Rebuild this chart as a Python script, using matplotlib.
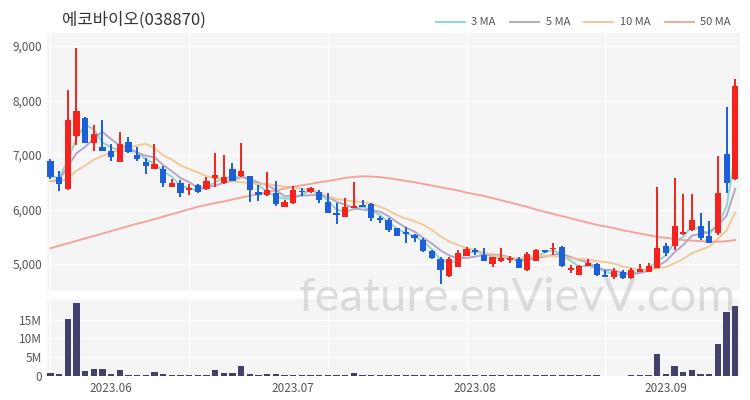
import numpy as np
import pandas as pd
import matplotlib
matplotlib.use('Agg')
import matplotlib.pyplot as plt
from matplotlib.ticker import FuncFormatter

plt.rcParams['font.family'] = ['Noto Sans CJK KR', 'DejaVu Sans']

title = '에코바이오(038870)'
holidays = ['2023-05-29', '2023-06-06', '2023-08-15']
dates = pd.bdate_range('2023-05-22', '2023-09-13', freq='C', holidays=holidays)

opens = [6900, 6600, 6370, 7350, 7680, 7230, 7150, 7070, 6880, 7240,
         7000, 6880, 6745, 6740, 6420, 6490, 6360, 6450, 6370, 6575,
         6495, 6740, 6615, 6615, 6330, 6266, 6310, 6040, 6115, 6340,
         6315, 6330, 6145, 5930, 5870, 6020, 6083, 6110, 5840, 5810,
         5655, 5595, 5530, 5450, 5240, 5085, 4780, 4945, 5150, 5250,
         5165, 5005, 5055, 5075, 5085, 4885, 5055, 5250, 5270, 5310,
         4885, 4800, 4965, 4995, 4800, 4765, 4860, 4740, 4860, 4860,
         4935, 5330, 5330, 5545, 5625, 5700, 5515, 5565, 7020, 6560]
highs = [6920, 6700, 8190, 8970, 7700, 7560, 7650, 7200, 7430, 7340,
         7150, 6940, 7210, 6790, 6555, 6540, 6470, 6470, 6600, 7030,
         7000, 6850, 7225, 6620, 6450, 6695, 6530, 6180, 6430, 6400,
         6420, 6360, 6300, 6115, 6205, 6510, 6175, 6120, 5880, 5850,
         5660, 5685, 5560, 5470, 5260, 5130, 5120, 5260, 5310, 5300,
         5300, 5130, 5290, 5140, 5130, 5225, 5270, 5260, 5390, 5330,
         4980, 4990, 5090, 5020, 4885, 4920, 4890, 4925, 5000, 5010,
         6410, 5390, 6570, 6285, 6285, 5945, 5790, 6980, 7880, 8400]
lows = [6560, 6340, 6350, 7180, 7230, 7080, 7070, 6900, 6870, 7040,
        6890, 6660, 6740, 6410, 6420, 6225, 6265, 6300, 6360, 6420,
        6470, 6520, 6600, 6145, 6160, 6250, 6065, 6040, 6110, 6250,
        6300, 6125, 5930, 5735, 5860, 6020, 6050, 5795, 5750, 5580,
        5510, 5380, 5400, 5220, 5090, 4640, 4770, 4940, 5140, 5170,
        5050, 4945, 5040, 5020, 4920, 4880, 5050, 5200, 5165, 4950,
        4840, 4790, 4960, 4780, 4760, 4720, 4730, 4730, 4850, 4850,
        4920, 5150, 5250, 5530, 5610, 5450, 5390, 5540, 6300, 6540]
closes = [6600, 6470, 7650, 7800, 7230, 7380, 7080, 6960, 7210, 7050,
          6920, 6790, 6835, 6480, 6493, 6300, 6400, 6330, 6530, 6625,
          6600, 6530, 6715, 6360, 6265, 6358, 6100, 6144, 6360, 6320,
          6390, 6175, 5930, 5900, 6050, 6064, 6052, 5840, 5810, 5625,
          5515, 5550, 5470, 5240, 5105, 4885, 5085, 5205, 5280, 5220,
          5055, 5128, 5115, 5105, 4920, 5175, 5250, 5220, 5300, 4965,
          4920, 4960, 5025, 4800, 4765, 4870, 4750, 4890, 4900, 4965,
          5300, 5205, 5700, 5590, 5805, 5470, 5390, 6300, 6480, 8260]
# closes before the visible window, used only for the short moving averages
prev_closes = [6650, 7000, 6400, 6300, 6300, 6350, 6400, 6600, 6650]
ma50 = [5290, 5335, 5380, 5425, 5470, 5515, 5560, 5605, 5650, 5695,
        5740, 5780, 5825, 5870, 5915, 5960, 6005, 6050, 6085, 6120,
        6150, 6185, 6220, 6250, 6285, 6320, 6350, 6385, 6420, 6445,
        6470, 6500, 6525, 6550, 6580, 6600, 6610, 6605, 6595, 6575,
        6550, 6525, 6500, 6470, 6440, 6410, 6380, 6350, 6310, 6280,
        6250, 6210, 6170, 6130, 6090, 6050, 6000, 5960, 5920, 5880,
        5840, 5800, 5760, 5720, 5690, 5660, 5620, 5590, 5560, 5530,
        5500, 5480, 5460, 5440, 5430, 5420, 5410, 5410, 5420, 5440]
volume_m = [0.9, 0.45, 15.1, 19.4, 1.35, 1.8, 1.8, 0.4, 1.5, 0.3,
            0.3, 0.3, 1.0, 0.5, 0.3, 0.25, 0.25, 0.25, 0.3, 1.5,
            0.9, 0.7, 2.6, 0.45, 0.3, 0.55, 0.5, 0.2, 0.25, 0.15,
            0.15, 0.2, 0.2, 0.2, 0.25, 0.7, 0.2, 0.25, 0.2, 0.2,
            0.2, 0.25, 0.2, 0.25, 0.3, 0.35, 0.3, 0.25, 0.15, 0.15,
            0.15, 0.15, 0.2, 0.2, 0.25, 0.25, 0.2, 0.15, 0.2, 0.2,
            0.15, 0.15, 0.15, 0.15, 0.1, 0.1, 0.1, 0.15, 0.15, 0.2,
            5.9, 0.45, 2.6, 1.1, 1.5, 0.4, 0.4, 8.6, 17.0, 18.7]

x = np.arange(len(dates))
o = np.array(opens)
h = np.array(highs)
l = np.array(lows)
c = np.array(closes)

all_close = pd.Series(prev_closes + closes, dtype=float)
n0 = len(prev_closes)
ma3 = all_close.rolling(3).mean().values[n0:]
ma5 = all_close.rolling(5).mean().values[n0:]
ma10 = all_close.rolling(10).mean().values[n0:]

red, blue = '#f5221d', '#1c5fd6'
cols = np.where(c >= o, red, blue)

fig = plt.figure(figsize=(7.5, 4), dpi=100)
ax = fig.add_axes([47/750, 1-291/400, 693/750, 258/400])
axv = fig.add_axes([47/750, 1-377/400, 693/750, 78/400], sharex=ax)

for a in (ax, axv):
    a.set_facecolor('#f5f5f5')
    for s in a.spines.values():
        s.set_visible(False)
    a.tick_params(which='both', length=0, labelsize=8.5, colors='#555555')
    a.set_xticks([0, 16, 32, 48, 64], minor=True)
    a.grid(which='minor', axis='x', color='white', lw=1)
    a.grid(which='major', axis='y', color='white', lw=1)
    a.set_axisbelow(True)

ax.plot(x, ma3, color='#7fd4ca', lw=1.4, alpha=0.9, label='3 MA', zorder=2)
ax.plot(x, ma5, color='#ad9fc6', lw=1.4, alpha=0.9, label='5 MA', zorder=2)
ax.plot(x, ma10, color='#f0c58e', lw=1.4, alpha=0.9, label='10 MA', zorder=2)
ax.plot(x, ma50, color='#f4978b', lw=1.4, alpha=0.85, label='50 MA', zorder=2)

ax.vlines(x, l, h, colors=cols, lw=1.4, zorder=3)
body = np.maximum(np.abs(c - o), 12)
ax.bar(x, body, bottom=np.minimum(o, c), width=0.7, color=cols, zorder=4)

ax.set_xlim(-0.4, 79.55)
ax.set_ylim(4505, 9240)
ax.set_yticks([5000, 6000, 7000, 8000, 9000])
ax.yaxis.set_major_formatter(FuncFormatter(lambda v, p: f'{v:,.0f}'))
ax.tick_params(axis='x', labelbottom=False)

leg = ax.legend(loc='lower right', bbox_to_anchor=(0.995, 1.0), ncol=4, frameon=False,
                fontsize=8, handlelength=2.6, columnspacing=1.3, handletextpad=0.6,
                borderaxespad=0.1, labelcolor='#555555')

axv.bar(x, volume_m, width=0.72, color='#41416b')
axv.set_ylim(-0.3, 20.5)
axv.set_yticks([0, 5, 10, 15])
axv.set_yticklabels(['0', '5M', '10M', '15M'])
month_start = [i for i in range(1, len(dates)) if dates[i].month != dates[i-1].month]
axv.set_xticks(month_start)
axv.set_xticklabels([dates[i].strftime('%Y.%m') for i in month_start])

fig.text(62/750, 1-20/400, title, fontsize=12, va='center', color='#333333')
fig.text(518/750, 1-298/400, 'feature.enVievV.com', fontsize=34, color='#c4c4c4',
         alpha=0.55, ha='center', va='center', family=['Lato', 'DejaVu Sans'], zorder=10)

fig.savefig('out.png', dpi=100)
